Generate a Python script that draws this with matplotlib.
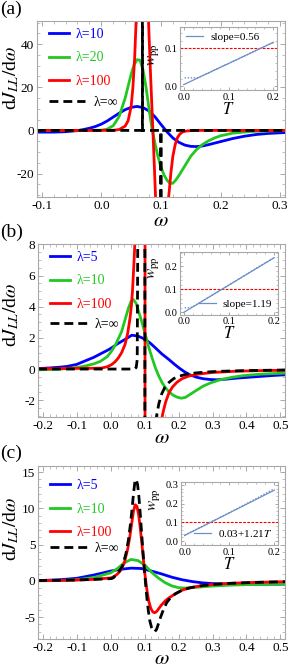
import matplotlib
matplotlib.use("Agg")
import matplotlib.pyplot as plt
from matplotlib.ticker import MultipleLocator, FormatStrFormatter

# --- 1. DATA ---
# panel (a): lambda = 10, 20, 100, inf
w_a_blue = [-0.108, -0.08, -0.06, -0.04, -0.03, -0.02, -0.01, 0.0, 0.01, 0.02, 0.03, 0.04, 0.05, 0.06,
            0.07, 0.08, 0.09, 0.1, 0.11, 0.12, 0.13, 0.14, 0.15, 0.16, 0.17, 0.18, 0.2, 0.22, 0.24,
            0.26, 0.28, 0.308]
j_a_blue = [-0.8, -0.8, -0.6, -0.1, 0.4, 1.0, 1.8, 2.9, 4.4, 6.2, 8.0, 9.6, 10.7, 11.1, 10.6, 9.0, 6.3,
            2.8, -0.6, -3.5, -5.5, -6.8, -7.4, -7.5, -7.2, -6.6, -5.2, -3.8, -2.7, -1.9, -1.4, -1.0]
w_a_green = [-0.108, -0.02, 0.0, 0.01, 0.02, 0.03, 0.04, 0.045, 0.05, 0.055, 0.06, 0.065, 0.07, 0.075,
             0.08, 0.085, 0.09, 0.095, 0.1, 0.105, 0.11, 0.115, 0.12, 0.125, 0.13, 0.14, 0.15, 0.16,
             0.17, 0.18, 0.19, 0.2, 0.22, 0.25, 0.308]
j_a_green = [0, 0, 0.1, 0.6, 2.2, 6.5, 15, 20.5, 26, 30.5, 32.8, 32.5, 28, 20, 10, 1, -6, -12, -17,
             -20.5, -23, -24.5, -24.5, -23, -21, -16.5, -12, -8.8, -6.5, -4.8, -3.5, -2.5, -1.3,
             -0.5, -0.1]
w_a_red = [-0.108, 0.0, 0.02, 0.03, 0.04, 0.045, 0.05, 0.053, 0.056, 0.058, 0.061, 0.065, 0.07, 0.075,
           0.079, 0.082, 0.085, 0.088, 0.092, 0.097, 0.102, 0.107, 0.111, 0.114, 0.117, 0.12, 0.124,
           0.128, 0.132, 0.137, 0.145, 0.16, 0.308]
j_a_red = [0, 0, 0.05, 0.4, 2.0, 4.5, 11, 20, 34, 48, 70, 90, 95, 80, 52, 30, 10, -10, -38, -60, -65,
           -50, -36, -28, -19, -12, -6.5, -3.2, -1.6, -0.6, -0.2, 0, 0]
w_a_inf = [-0.108, 0.0689, 0.069, 0.0691, 0.0999, 0.1, 0.1001, 0.308]
j_a_inf = [0, 0, 200, 0, 0, -200, 0, 0]

# panel (b): lambda = 5, 10, 100, inf
w_b_blue = [-0.214, -0.18, -0.15, -0.128, -0.1, -0.078, -0.05, -0.028, -0.01, 0.002, 0.02, 0.042,
            0.062, 0.08, 0.102, 0.117, 0.132, 0.15, 0.172, 0.187, 0.202, 0.217, 0.232, 0.252, 0.272,
            0.292, 0.312, 0.34, 0.372, 0.41, 0.442, 0.48, 0.514]
j_b_blue = [0.03, 0.07, 0.12, 0.17, 0.3, 0.5, 0.75, 1.0, 1.2, 1.35, 1.62, 1.9, 2.17, 2.12, 1.9, 1.65,
            1.35, 0.98, 0.6, 0.32, 0.06, -0.17, -0.36, -0.52, -0.62, -0.67, -0.69, -0.65, -0.58,
            -0.52, -0.47, -0.41, -0.37]
w_b_green = [-0.214, -0.16, -0.11, -0.08, -0.05, -0.03, -0.01, 0.002, 0.015, 0.032, 0.042, 0.052,
             0.06, 0.067, 0.075, 0.082, 0.092, 0.102, 0.112, 0.122, 0.132, 0.142, 0.152, 0.162,
             0.172, 0.182, 0.195, 0.207, 0.22, 0.232, 0.25, 0.272, 0.295, 0.322, 0.36, 0.392, 0.44,
             0.514]
j_b_green = [-0.05, -0.02, 0.07, 0.17, 0.33, 0.5, 0.8, 1.14, 1.6, 2.4, 3.15, 3.9, 4.35, 4.45, 4.2,
             3.7, 3.0, 2.2, 1.4, 0.7, 0.05, -0.47, -0.9, -1.22, -1.47, -1.65, -1.8, -1.87, -1.82,
             -1.65, -1.4, -1.1, -0.88, -0.69, -0.52, -0.42, -0.33, -0.26]
w_b_red = [-0.214, -0.1, -0.05, -0.028, -0.01, 0.002, 0.012, 0.022, 0.032, 0.042, 0.05, 0.057, 0.061,
           0.064, 0.067, 0.069, 0.072, 0.076, 0.082, 0.088, 0.094, 0.098, 0.1, 0.102, 0.106, 0.112,
           0.12, 0.13, 0.14, 0.15, 0.156, 0.162, 0.172, 0.182, 0.195, 0.21, 0.23, 0.26, 0.3, 0.37,
           0.44, 0.514]
j_b_red = [0.02, 0.04, 0.05, 0.06, 0.15, 0.28, 0.45, 0.7, 1.05, 1.57, 2.3, 3.3, 4.1, 5.0, 6.2, 7.1,
           8.5, 11, 16, 26, 50, 120, 300, -300, -80, -35, -16, -8.5, -5, -3.2, -2.6, -2.1, -1.5,
           -1.15, -0.85, -0.62, -0.45, -0.32, -0.22, -0.14, -0.1, -0.08]
w_b_inf = [-0.214, 0.07, 0.075, 0.078, 0.08, 0.085, 0.09, 0.095, 0.099, 0.1, 0.101, 0.105, 0.11,
           0.115, 0.12, 0.127, 0.135, 0.142, 0.15, 0.16, 0.172, 0.185, 0.2, 0.22, 0.25, 0.29, 0.33,
           0.4, 0.514]
j_b_inf = [0, 0, 0.1, 0.6, 10, 30, 60, 120, 300, 600, -600, -80, -30, -14, -8, -4.6, -3.0, -2.2,
           -1.6, -1.15, -0.85, -0.62, -0.47, -0.35, -0.25, -0.18, -0.14, -0.1, -0.06]

# panel (c): lambda = 5, 10, 100, inf
w_c_blue = [-0.214, -0.15, -0.1, -0.05, 0.0, 0.03, 0.06, 0.09, 0.12, 0.15, 0.18, 0.21, 0.24, 0.27,
            0.3, 0.35, 0.4, 0.45, 0.514]
j_c_blue = [0.03, 0.15, 0.35, 0.8, 1.35, 1.6, 1.75, 1.7, 1.35, 0.95, 0.5, 0.15, -0.1, -0.28, -0.38,
            -0.45, -0.47, -0.47, -0.45]
w_c_green = [-0.214, -0.15, -0.1, -0.05, 0.0, 0.02, 0.04, 0.06, 0.08, 0.1, 0.12, 0.14, 0.16, 0.18,
             0.2, 0.22, 0.25, 0.3, 0.35, 0.4, 0.514]
j_c_green = [0.0, 0.05, 0.15, 0.45, 1.1, 1.7, 2.5, 2.95, 2.8, 2.2, 1.2, 0.4, -0.25, -0.7, -0.95,
             -1.0, -0.9, -0.72, -0.6, -0.52, -0.45]
w_c_red = [-0.214, -0.15, -0.1, -0.05, 0.0, 0.01, 0.02, 0.03, 0.04, 0.05, 0.056, 0.062, 0.067, 0.072,
           0.077, 0.082, 0.087, 0.092, 0.097, 0.102, 0.107, 0.112, 0.118, 0.124, 0.13, 0.136, 0.142,
           0.15, 0.16, 0.17, 0.18, 0.19, 0.21, 0.23, 0.26, 0.3, 0.35, 0.42, 0.514]
j_c_red = [0.02, 0.05, 0.1, 0.2, 0.4, 0.6, 0.95, 1.5, 2.5, 4.4, 6.0, 8.0, 9.6, 10.5, 10.3, 9.2, 7.3,
           5.0, 2.6, 0.4, -1.4, -2.8, -3.8, -4.3, -4.4, -4.2, -3.8, -3.3, -2.8, -2.4, -2.1, -1.8,
           -1.3, -1.0, -0.72, -0.5, -0.35, -0.22, -0.12]
w_c_inf = [-0.214, -0.15, -0.1, -0.05, 0.0, 0.005, 0.01, 0.015, 0.025, 0.035, 0.045, 0.052, 0.058,
           0.063, 0.067, 0.071, 0.075, 0.079, 0.083, 0.087, 0.091, 0.095, 0.099, 0.103, 0.107, 0.111,
           0.115, 0.12, 0.125, 0.13, 0.135, 0.14, 0.147, 0.155, 0.165, 0.175, 0.19, 0.21, 0.23,
           0.26, 0.3, 0.35, 0.42, 0.514]
j_c_inf = [0.05, 0.08, 0.12, 0.2, 0.3, 0.35, 0.5, 0.95, 1.3, 2.1, 3.8, 5.6, 7.8, 10.0, 12.0, 13.6,
           14.0, 13.3, 11.6, 9.2, 6.6, 4.0, 1.6, -0.6, -2.6, -4.2, -5.5, -6.4, -6.9, -7.0, -6.7,
           -6.0, -5.0, -4.0, -3.0, -2.4, -1.8, -1.3, -1.0, -0.72, -0.5, -0.35, -0.22, -0.12]

# insets: w_pp versus T (fit line + computed points), threshold 0.1
T_fit = [0.0, 0.2]
wpp_fit_a = [0.004, 0.116]
wpp_fit_b = [0.0, 0.238]
wpp_fit_c = [0.03, 0.272]
T_a = [0.002, 0.01, 0.02, 0.03, 0.05, 0.08, 0.12, 0.16, 0.2]
wpp_a = [0.022, 0.022, 0.022, 0.022, 0.032, 0.049, 0.071, 0.094, 0.116]
T_b = [0.002, 0.008, 0.015, 0.02, 0.05, 0.1, 0.15, 0.2]
wpp_b = [0.02, 0.02, 0.021, 0.024, 0.06, 0.119, 0.179, 0.238]
T_c = [0.0, 0.05, 0.1, 0.15, 0.2]
wpp_c = [0.032, 0.092, 0.152, 0.215, 0.28]
wpp_threshold = 0.1

labels_a = ['λ=10', 'λ=20', 'λ=100', 'λ=∞']
labels_bc = ['λ=5', 'λ=10', 'λ=100', 'λ=∞']
inset_labels = ['slope=0.56', 'slope=1.19', r'0.03+1.21$T$']

# --- 2. STYLE ---
plt.rcParams['font.family'] = ['Liberation Serif', 'DejaVu Serif']
plt.rcParams['mathtext.fontset'] = 'stix'
plt.rcParams['axes.unicode_minus'] = False

BLUE, GREEN, RED = '#0000ff', '#22c822', '#ff0000'
FRAME = '#a8a8a8'
INSET_BLUE = '#6d8fc9'


def style_frame(ax, xmaj, xmin, ymaj, ymin, fs, fmt_x, fmt_y, tl=3.5):
    for s in ax.spines.values():
        s.set_color(FRAME)
        s.set_linewidth(0.8)
    ax.xaxis.set_major_locator(MultipleLocator(xmaj))
    ax.xaxis.set_minor_locator(MultipleLocator(xmin))
    ax.yaxis.set_major_locator(MultipleLocator(ymaj))
    ax.yaxis.set_minor_locator(MultipleLocator(ymin))
    ax.xaxis.set_major_formatter(FormatStrFormatter(fmt_x))
    ax.yaxis.set_major_formatter(FormatStrFormatter(fmt_y))
    ax.tick_params(which='both', direction='in', top=True, right=True, color=FRAME,
                   labelsize=fs, pad=2)
    ax.tick_params(which='major', length=tl, width=0.7)
    ax.tick_params(which='minor', length=tl * 0.55, width=0.5)


def draw_panel(rect, curves, labels, xlim, ylim, ymaj, ymin, ylab_xy, leg_top, inf_top, xpad):
    ax = fig.add_axes(rect)
    colors = [BLUE, GREEN, RED]
    handles = []
    for (w, j), c, lab in zip(curves[:3], colors, labels[:3]):
        h, = ax.plot(w, j, color=c, lw=2.0, label=lab, solid_joinstyle='round')
        handles.append(h)
    w, j = curves[3]
    hinf, = ax.plot(w, j, color='black', lw=2.0, ls=(0, (3.2, 1.8)), label=labels[3])
    ax.set_xlim(*xlim)
    ax.set_ylim(*ylim)
    style_frame(ax, 0.1, 0.02, ymaj, ymin, 9.5, '%.1f', '%d')
    ax.set_xlabel(r'$\omega$', fontsize=15, labelpad=xpad)
    ax.set_ylabel(r'd$J_{LL}/$d$\omega$', fontsize=14)
    ax.yaxis.set_label_coords(*ylab_xy)

    leg1 = ax.legend(handles=handles, loc='upper left', bbox_to_anchor=(0.05, leg_top),
                     frameon=False, fontsize=10, handlelength=1.4, handletextpad=0.5,
                     borderpad=0, borderaxespad=0, labelspacing=0.75, labelcolor='linecolor')
    ax.add_artist(leg1)
    ax.legend(handles=[hinf], loc='upper left', bbox_to_anchor=(0.05, inf_top), frameon=False,
              fontsize=10, handlelength=2.6, handletextpad=0.6, borderpad=0, borderaxespad=0)
    return ax


def draw_inset(rect, T_pts, w_pts, w_fit, ylim, ymaj, label, loc, ylab_y):
    ax = fig.add_axes(rect)
    ax.axhline(wpp_threshold, color=RED, lw=0.8, ls=(0, (2.5, 1.2)))
    ax.plot(T_pts, w_pts, color=INSET_BLUE, lw=1.0, ls=(0, (1, 1.2)))
    ax.plot(T_fit, w_fit, color=INSET_BLUE, lw=0.9, label=label)
    ax.set_xlim(-0.008, 0.208)
    ax.set_ylim(*ylim)
    style_frame(ax, 0.1, 0.02, ymaj, 0.02, 7.5, '%.1f', '%.1f', tl=2.5)
    ax.set_xlabel(r'$T$', fontsize=12, labelpad=0)
    ax.set_ylabel(r'$w_{\rm pp}$', fontsize=11, labelpad=0)
    ax.yaxis.set_label_coords(-0.2, ylab_y)
    ax.legend(loc=loc, frameon=False, fontsize=8, handlelength=1.6, handletextpad=0.6,
              borderpad=0.3, borderaxespad=0.2)
    return ax


# --- 3. PLOTTING ---
fig = plt.figure(figsize=(2.91, 6.71), dpi=100)

draw_panel([0.127, 0.706, 0.852, 0.262],
           [(w_a_blue, j_a_blue), (w_a_green, j_a_green), (w_a_red, j_a_red), (w_a_inf, j_a_inf)],
           labels_a, (-0.108, 0.308), (-31, 50.5), 20, 5, (-0.066, 0.68), 0.963, 0.577, 0)
draw_panel([0.131, 0.378, 0.849, 0.259],
           [(w_b_blue, j_b_blue), (w_b_green, j_b_green), (w_b_red, j_b_red), (w_b_inf, j_b_inf)],
           labels_bc, (-0.214, 0.514), (-3.1, 8.05), 2, 0.5, (-0.07, 0.59), 0.957, 0.572, -2.5)
draw_panel([0.131, 0.048, 0.849, 0.257],
           [(w_c_blue, j_c_blue), (w_c_green, j_c_green), (w_c_red, j_c_red), (w_c_inf, j_c_inf)],
           labels_bc, (-0.214, 0.514), (-8.0, 15.8), 5, 1, (-0.07, 0.64), 0.925, 0.56, -2.5)

draw_inset([0.619, 0.866, 0.333, 0.094], T_a, wpp_a, wpp_fit_a, (-0.01, 0.157), 0.1,
           inset_labels[0], 'upper left', 0.56)
draw_inset([0.619, 0.531, 0.336, 0.094], T_b, wpp_b, wpp_fit_b, (-0.01, 0.264), 0.1,
           inset_labels[1], 'lower right', 0.75)
draw_inset([0.622, 0.188, 0.333, 0.094], T_c, wpp_c, wpp_fit_c, (-0.02, 0.317), 0.1,
           inset_labels[2], 'lower right', 0.71)

for lab, ypos in zip(['(a)', '(b)', '(c)'], [0.999, 0.666, 0.338]):
    fig.text(0.0, ypos, lab, fontsize=14, va='top', ha='left')

fig.savefig('out.png', dpi=100)
